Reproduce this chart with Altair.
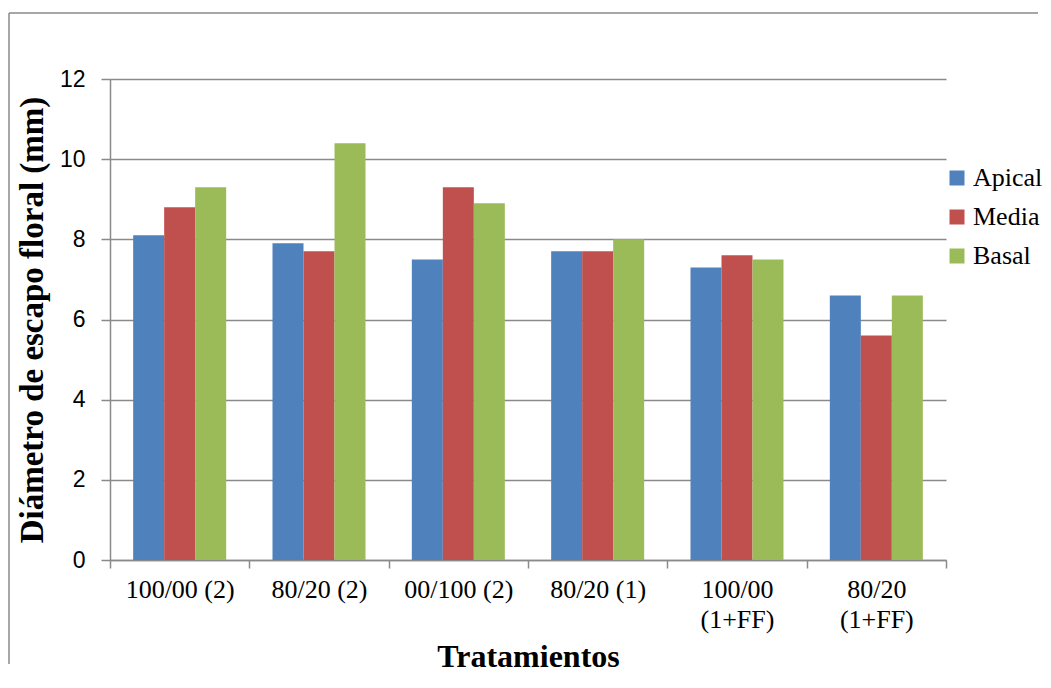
import altair as alt
import pandas as pd

categories = ["100/00 (2)", "80/20 (2)", "00/100 (2)", "80/20 (1)", "100/00 (1+FF)", "80/20 (1+FF)"]
series = ["Apical", "Media", "Basal"]
apical = [8.1, 7.9, 7.5, 7.7, 7.3, 6.6]
media = [8.8, 7.7, 9.3, 7.7, 7.6, 5.6]
basal = [9.3, 10.4, 8.9, 8.0, 7.5, 6.6]
colors = ["#4F81BD", "#C0504D", "#9BBB59"]
y_ticks = [0, 2, 4, 6, 8, 10, 12]

rows = []
for s, vals in zip(series, [apical, media, basal]):
    for c, v in zip(categories, vals):
        rows.append({"Tratamiento": c, "Serie": s, "Valor": v})
df = pd.DataFrame(rows)

W, H = 836, 481
GRAY = "#8a8a8a"
SERIF = "Liberation Serif"

bars = alt.Chart(df).mark_bar().encode(
    x=alt.X(
        "Tratamiento:N",
        sort=categories,
        scale=alt.Scale(paddingInner=0, paddingOuter=0),
        axis=alt.Axis(
            title="Tratamientos",
            tickBand="extent",
            labelAngle=0,
            labelExpr="indexof(datum.label, '+') >= 0 ? split(datum.label, ' ') : datum.label",
            labelPadding=8,
            labelLineHeight=30,
            titlePadding=9,
            grid=False,
        ),
    ),
    y=alt.Y(
        "Valor:Q",
        scale=alt.Scale(domain=[0, 12], nice=False),
        axis=alt.Axis(
            values=y_ticks,
            title="Diámetro de escapo floral (mm)",
            grid=True,
            labelPadding=16,
            titlePadding=10,
        ),
    ),
    xOffset=alt.XOffset("Serie:N", sort=series, scale=alt.Scale(paddingOuter=0.747, paddingInner=0)),
    color=alt.Color(
        "Serie:N",
        sort=series,
        scale=alt.Scale(domain=series, range=colors),
        legend=alt.Legend(
            title=None,
            orient="none",
            legendX=834,
            legendY=86,
            symbolType="square",
            symbolSize=225,
            symbolStrokeWidth=0,
            labelOffset=3,
            rowPadding=13,
            padding=0,
        ),
    ),
)

frame_data = pd.DataFrame({"k": [0]})
left_edge = alt.Chart(frame_data).mark_rule(color=GRAY, strokeWidth=1.5).encode(
    x=alt.value(-101), y=alt.value(-66), y2=alt.value(H + 104)
)
top_edge = alt.Chart(frame_data).mark_rule(color=GRAY, strokeWidth=1.5).encode(
    y=alt.value(-66), x=alt.value(-101), x2=alt.value(W + 92)
)

chart = (
    alt.layer(bars, left_edge, top_edge)
    .properties(
        width=W,
        height=H,
        padding={"left": 0, "top": 4, "right": 0, "bottom": 0},
    )
    .configure(background="white", font=SERIF)
    .configure_view(stroke=None)
    .configure_axis(
        tickColor=GRAY,
        tickWidth=1.5,
        domainColor=GRAY,
        domainWidth=1.5,
        gridColor=GRAY,
        gridWidth=1.5,
        labelColor="black",
        titleColor="black",
        titleFont=SERIF,
        titleFontWeight="bold",
    )
    .configure_axisX(
        labelFont=SERIF,
        labelFontSize=26,
        tickSize=8,
        titleFontSize=32,
    )
    .configure_axisY(
        labelFont="Liberation Sans",
        labelFontSize=23,
        tickSize=9,
        titleFontSize=33,
    )
    .configure_legend(
        labelFont=SERIF,
        labelFontSize=26,
        labelColor="black",
    )
)

chart.save("out.html", embed_options={"renderer": "svg", "actions": False})
